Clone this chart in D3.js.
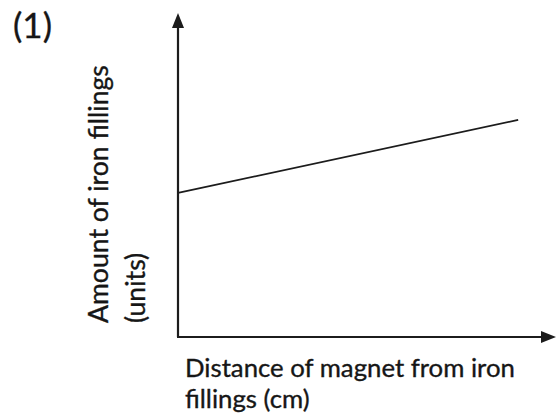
<!DOCTYPE html>
<html>
<head>
<meta charset="utf-8">
<script src="https://cdn.jsdelivr.net/npm/d3@7"></script>
<style>
html,body{margin:0;padding:0;background:#fff;}
svg{display:block;}
text{font-family:Lato,"Open Sans",sans-serif;fill:#161616;stroke:#161616;stroke-width:0.35px;}
</style>
</head>
<body>
<script>
// Data (qualitative sketch graph, no ticks)
const panelLabel = "(1)";
const distance = [0, 9];          // x values
const ironAmount = [4.45, 6.7];   // y values
const xLabelLines = ["Distance of magnet from iron", "fillings (cm)"];
const yLabelLines = ["Amount of iron fillings", "(units)"];

const W = 560, H = 420;
const svg = d3.select("body").append("svg").attr("width", W).attr("height", H);

const x = d3.scaleLinear().domain([0, 10]).range([178, 556]);
const y = d3.scaleLinear().domain([0, 10]).range([337, 13]);

const ink = "#1c1c1c";

// axes lines
svg.append("line")
  .attr("x1", x(0)).attr("y1", y(0)).attr("x2", x(0)).attr("y2", y(10) + 8)
  .attr("stroke", ink).attr("stroke-width", 2.2);
svg.append("line")
  .attr("x1", x(0) - 1).attr("y1", y(0)).attr("x2", x(10) - 8).attr("y2", y(0))
  .attr("stroke", ink).attr("stroke-width", 2.2);

// arrowheads
const yt = [x(0), y(10)];
svg.append("path")
  .attr("d", `M${yt[0]},${yt[1]} L${yt[0]-6},${yt[1]+15} L${yt[0]+6},${yt[1]+15} Z`)
  .attr("fill", ink);
const xt = [x(10), y(0)];
svg.append("path")
  .attr("d", `M${xt[0]},${xt[1]} L${xt[0]-15},${xt[1]-6} L${xt[0]-15},${xt[1]+6} Z`)
  .attr("fill", ink);

// data line
const pts = distance.map((d, i) => [d, ironAmount[i]]);
svg.append("path")
  .datum(pts)
  .attr("d", d3.line().x(d => x(d[0])).y(d => y(d[1])))
  .attr("fill", "none").attr("stroke", ink).attr("stroke-width", 1.7);

// helper: fit font size to a target width
function fit(t, target, start) {
  t.style("font-size", start + "px");
  const len = t.node().getComputedTextLength();
  t.style("font-size", (start * target / len).toFixed(2) + "px");
}

// panel label
const pl = svg.append("text").attr("x", 13).attr("y", 38).text(panelLabel);
fit(pl, 39, 24);

// x label
const xl1 = svg.append("text").attr("x", 185).attr("y", 377).text(xLabelLines[0]);
fit(xl1, 330, 20);
const fs = parseFloat(xl1.style("font-size"));
svg.append("text").attr("x", 185).attr("y", 408).style("font-size", fs + "px").text(xLabelLines[1]);

// y label (rotated)
const yl1 = svg.append("text").attr("transform", "translate(108,323) rotate(-90)").text(yLabelLines[0]);
fit(yl1, 258, 20);
const fs2 = parseFloat(yl1.style("font-size"));
svg.append("text").attr("transform", "translate(145,323) rotate(-90)").style("font-size", fs2 + "px").text(yLabelLines[1]);
</script>
</body>
</html>
